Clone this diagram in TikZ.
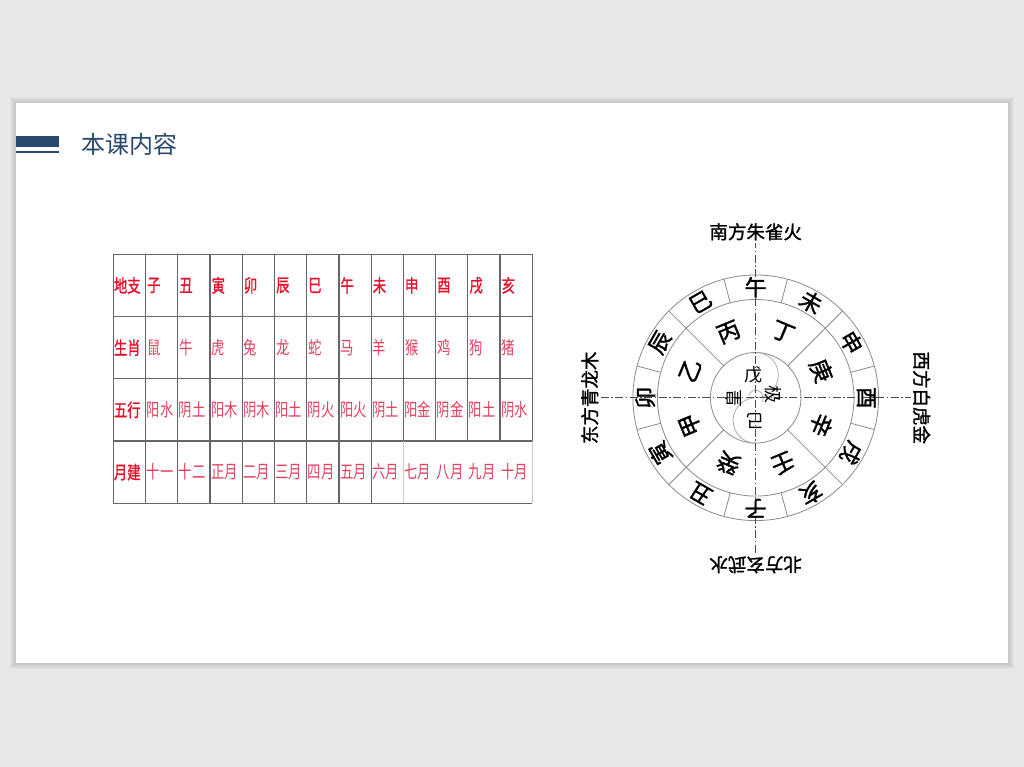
\documentclass[tikz,border=0pt]{standalone}
\usepackage{fontspec}
\setmainfont{Noto Sans CJK SC}
\newfontfamily\cjkb[FakeBold=1.4]{Noto Sans CJK SC}
\usepackage{xcolor}
\usetikzlibrary{calc}

\definecolor{Navy}{HTML}{284A6E}
\definecolor{PageGrey}{HTML}{E8E8E8}
\definecolor{TabRed}{HTML}{E8102A}
\definecolor{TabPink}{HTML}{E2405E}
\definecolor{GridGrey}{HTML}{666666}
\definecolor{RingGrey}{HTML}{8A8A8A}

\begin{document}
\begin{tikzpicture}[x=1pt,y=1pt]
\tikzset{
	grid line/.style = {draw=GridGrey, line width=1.2pt},
	soft line/.style = {draw=GridGrey!35, line width=0.8pt},
	head text/.style = {anchor=west, inner sep=0, text=TabRed, font=\cjkb\fontsize{18}{18}\selectfont, xscale=0.74},
	cell text/.style = {anchor=west, inner sep=0, text=TabPink, font=\fontsize{18}{18}\selectfont, xscale=0.74},
	ring line/.style = {draw=RingGrey, line width=0.8pt},
	axis line/.style = {draw=black!70, line width=0.7pt, dash pattern=on 8pt off 2.5pt on 1.5pt off 2.5pt},
	ring char/.style = {inner sep=0, font=\cjkb\fontsize{22}{22}\selectfont},
	stem char/.style = {inner sep=0, font=\cjkb\fontsize{23}{23}\selectfont},
	mid char/.style = {inner sep=0, font=\fontsize{18}{18}\selectfont},
	side label/.style = {inner sep=0, font=\cjkb\fontsize{18.5}{18.5}\selectfont},
}
\def\xo{113.3}
\def\yo{512.7}
\def\cw{32.23}
\def\rh{62.25}

\useasboundingbox (0,0) rectangle (1024,767);
\fill[PageGrey] (0,0) rectangle (1024,767);

% slide with soft shadow
\foreach \s in {1,...,6}
	\fill[black, opacity=0.025] ({16-\s},{104-\s}) rectangle ({1008+\s},{664+\s});
\fill[white] (16,104) rectangle (1008,664);

% title
\fill[Navy] (16,620) rectangle (59,631);
\draw[Navy, line width=1.2pt] (16,615) -- (59,615);
\node[anchor=west, inner sep=0, text=Navy, font=\fontsize{24}{24}\selectfont] (title) at (81,623) {本课内容};

% table
\foreach \r in {0,...,4}
	\draw[grid line] (\xo,{\yo-\r*\rh}) -- ({\xo+13*\cw},{\yo-\r*\rh});
\foreach \c in {0,...,8}
	\draw[grid line] ({\xo+\c*\cw},\yo) -- ({\xo+\c*\cw},{\yo-4*\rh});
\foreach \c in {9,...,13}
	\draw[grid line] ({\xo+\c*\cw},\yo) -- ({\xo+\c*\cw},{\yo-3*\rh});
\foreach \c in {9,13}
	\draw[soft line] ({\xo+\c*\cw},{\yo-3*\rh}) -- ({\xo+\c*\cw},{\yo-4*\rh});

\foreach \t [count=\r] in {地支,生肖,五行,月建}
	\node[head text] (head-\r) at ({\xo+0.5},{\yo-(\r-0.5)*\rh}) {\t};
\foreach \t [count=\c] in {子,丑,寅,卯,辰,巳,午,未,申,酉,戌,亥}
	\node[head text] (zhi-\c) at ({\xo+\c*\cw+1.5},{\yo-0.5*\rh}) {\t};
\foreach \t [count=\c] in {鼠,牛,虎,兔,龙,蛇,马,羊,猴,鸡,狗,猪}
	\node[cell text] (xiao-\c) at ({\xo+\c*\cw+1.5},{\yo-1.5*\rh}) {\t};
\foreach \t [count=\c] in {阳水,阴土,阳木,阴木,阳土,阴火,阳火,阴土,阳金,阴金,阳土,阴水}
	\node[cell text] (xing-\c) at ({\xo+\c*\cw+1},{\yo-2.5*\rh}) {\t};
\foreach \t [count=\c] in {十一,十二,正月,二月,三月,四月,五月,六月,七月,八月,九月,十月}
	\node[cell text] (yue-\c) at ({\xo+\c*\cw+1},{\yo-3.5*\rh}) {\t};

% wheel
\begin{scope}[shift={(755.7,369.2)}]
\draw[ring line] (0,0) circle (122.8) (0,0) circle (98.3) (0,0) circle (45.3);
\foreach \a in {15,45,...,345}
	\draw[ring line] (\a:98.3) -- (\a:122.8);
\foreach \a in {45,135,225,315}
	\draw[ring line] (\a:45.3) -- (\a:98.3);
\draw[ring line, draw=RingGrey!70] (0,45.3) arc (90:-90:22.65) arc (90:270:22.65);
\draw[ring line, draw=RingGrey!70] (160:7.5) arc (160:-30:7.5);

\coordinate (ax-w) at (-155,0);
\coordinate (ax-e) at (155,0);
\coordinate (ax-n) at (0,155);
\coordinate (ax-s) at (0,-155);
\draw[axis line] (ax-w) -- (ax-e);
\draw[axis line] (ax-s) -- (ax-n);

\foreach \t [count=\i] in {子,丑,寅,卯,辰,巳,午,未,申,酉,戌,亥}
	\node[ring char, rotate={-150-30*\i}] (br-\i) at ({-60-30*\i}:110.5) {\t};
\foreach \t [count=\i] in {甲,乙,丙,丁,庚,辛,壬,癸}
	\node[stem char, rotate={-202.5-45*\i}] (gan-\i) at ({-112.5-45*\i}:71) {\t};

\node[mid char] (wu) at (-2.4,22.8) {戊};
\node[mid char, rotate=90] (huang) at (-22.4,-0.5) {皇};
\node[mid char, rotate=-90] (ji) at (17.6,2.8) {极};
\node[mid char, rotate=180] (jiself) at (-0.7,-22.8) {己};

\node[side label] (top) at (0,166) {南方朱雀火};
\node[side label, rotate=180] (bottom) at (0,-167) {北方玄武水};
\node[side label, rotate=90] (left) at (-166,0) {东方青龙木};
\node[side label, rotate=-90] (right) at (166,0) {西方白虎金};
\end{scope}

\end{tikzpicture}
\end{document}
